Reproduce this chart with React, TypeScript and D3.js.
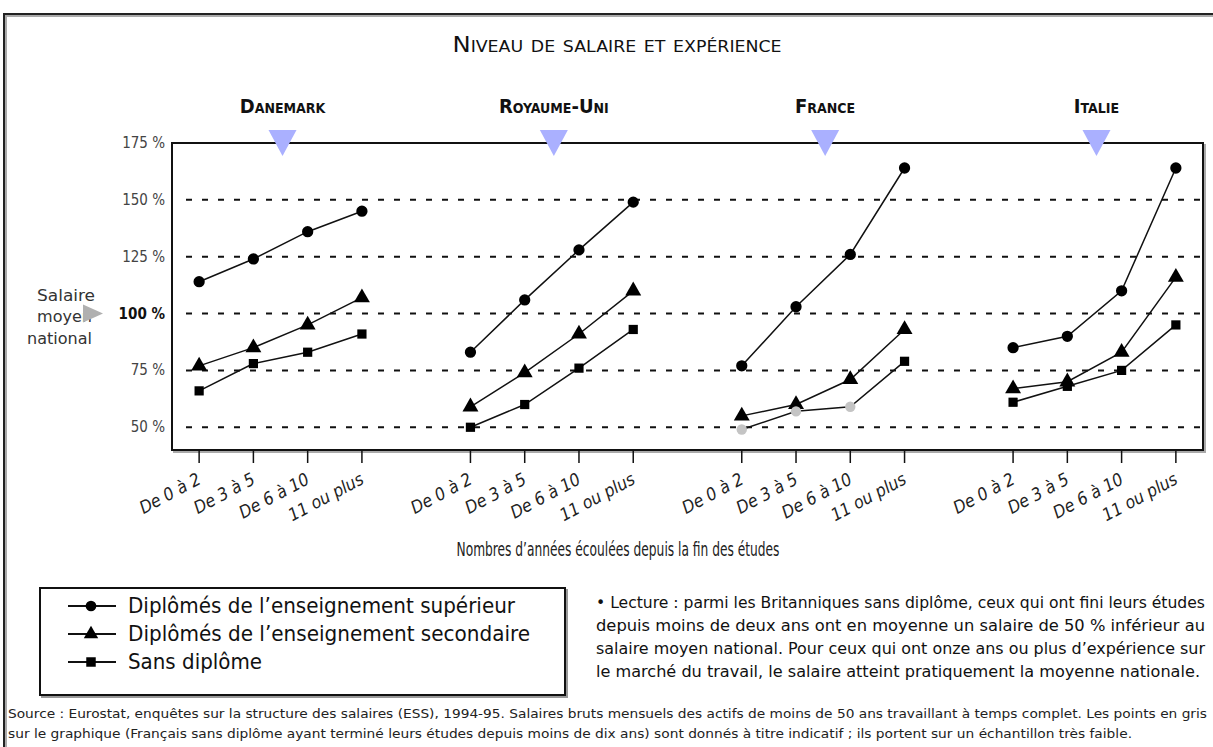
import React from 'react';
import * as d3 from 'd3';

const countries = ['Danemark', 'Royaume-Uni', 'France', 'Italie'];
const categories = ['De 0 à 2', 'De 3 à 5', 'De 6 à 10', '11 ou plus'];

// values in % of the national average salary, one array per country
const superieur = [
  [114, 124, 136, 145],
  [83, 106, 128, 149],
  [77, 103, 126, 164],
  [85, 90, 110, 164],
];
const secondaire = [
  [77, 85, 95, 107],
  [59, 74, 91, 110],
  [55, 60, 71, 93],
  [67, 70, 83, 116],
];
const sansDiplome = [
  [66, 78, 83, 91],
  [50, 60, 76, 93],
  [49, 57, 59, 79],
  [61, 68, 75, 95],
];
// points given only as an indication (small sample)
const grayPoints = [
  [false, false, false, false],
  [false, false, false, false],
  [true, true, true, false],
  [false, false, false, false],
];

const yTicks = [50, 75, 100, 125, 150, 175];
const gridValues = [50, 75, 100, 125, 150];

const legendItems = [
  { label: 'Diplômés de l\u2019enseignement supérieur', symbol: 'circle', len: 387 },
  { label: 'Diplômés de l\u2019enseignement secondaire', symbol: 'triangle', len: 402 },
  { label: 'Sans diplôme', symbol: 'square', len: 134 },
];

const readingLines = [
  '• Lecture : parmi les Britanniques sans diplôme, ceux qui ont fini leurs études',
  'depuis moins de deux ans ont en moyenne un salaire de 50 % inférieur au',
  'salaire moyen national. Pour ceux qui ont onze ans ou plus d\u2019expérience sur',
  'le marché du travail, le salaire atteint pratiquement la moyenne nationale.',
];

const sourceLines = [
  'Source : Eurostat, enquêtes sur la structure des salaires (ESS), 1994-95. Salaires bruts mensuels des actifs de moins de 50 ans travaillant à temps complet. Les points en gris',
  'sur le graphique (Français sans diplôme ayant terminé leurs études depuis moins de dix ans) sont donnés à titre indicatif ; ils portent sur un échantillon très faible.',
];

const FONT = "'Liberation Sans Narrow', 'DejaVu Sans Condensed', 'Roboto Condensed', 'DejaVu Sans', sans-serif";

const W = 1213;
const H = 747;
const plot = { left: 172, right: 1203, top: 143, bottom: 450 };

const symbolPath = (kind: string, size: number) => {
  const t = kind === 'triangle' ? d3.symbolTriangle : kind === 'square' ? d3.symbolSquare : d3.symbolCircle;
  return d3.symbol().type(t).size(size)() as string;
};

export default function App() {
  // 19 slots: 4 per country with an empty slot between groups
  const slots: string[] = [];
  countries.forEach((c, ci) => {
    categories.forEach((_, j) => slots.push(`${ci}-${j}`));
    if (ci < countries.length - 1) slots.push(`gap-${ci}`);
  });

  const x = d3.scalePoint<string>().domain(slots).range([plot.left, plot.right]).padding(0.5);
  const y = d3.scaleLinear().domain([40, 175]).range([plot.bottom, plot.top]);

  const line = d3
    .line<{ key: string; v: number }>()
    .x(d => x(d.key) as number)
    .y(d => y(d.v));

  const series = [
    { values: superieur, symbol: 'circle', size: 100 },
    { values: secondaire, symbol: 'triangle', size: 110 },
    { values: sansDiplome, symbol: 'square', size: 85 },
  ];

  const groupCenter = (ci: number) => ((x(`${ci}-0`) as number) + (x(`${ci}-3`) as number)) / 2 + 2;

  return (
    <svg
      width={W}
      height={H}
      style={{ position: 'absolute', left: 0, top: 0, background: '#fff' }}
      fontFamily={FONT}
    >
      {/* outer frame */}
      <rect x={6} y={16} width={1260} height={800} fill="none" stroke="#aaa" strokeWidth={2} />
      <rect x={4} y={14} width={1260} height={800} fill="none" stroke="#222" strokeWidth={2} />

      {/* title */}
      <text x={617} y={52} textAnchor="middle" fontSize={21} fontVariant="small-caps" textLength={329} lengthAdjust="spacingAndGlyphs" fill="#111">
        Niveau de salaire et expérience
      </text>

      {/* country labels */}
      {countries.map((c, ci) => (
        <text key={c} x={groupCenter(ci)} y={113} textAnchor="middle" fontSize={20} fontWeight="bold" fontVariant="small-caps" fill="#111">
          {c}
        </text>
      ))}

      {/* plot frame with shadow */}
      <rect x={plot.left + 2} y={plot.top + 2} width={plot.right - plot.left} height={plot.bottom - plot.top} fill="none" stroke="#aaa" strokeWidth={2} />
      <rect x={plot.left} y={plot.top} width={plot.right - plot.left} height={plot.bottom - plot.top} fill="#fff" stroke="#111" strokeWidth={2} />

      {/* blue markers over the frame */}
      {countries.map((c, ci) => {
        const cx = groupCenter(ci);
        return <path key={c} d={`M${cx - 14},130 L${cx + 14},130 L${cx},156 Z`} fill="#aab0ff" />;
      })}

      {/* grid */}
      {gridValues.map(v => (
        <line key={v} x1={plot.left + 14} x2={plot.right} y1={y(v)} y2={y(v)} stroke="#111" strokeWidth={2} strokeDasharray="6,10" />
      ))}

      {/* y tick labels */}
      {yTicks.map(v => (
        <text
          key={v}
          x={165}
          y={y(v) + 5}
          textAnchor="end"
          fontSize={15}
          fontWeight={v === 100 ? 'bold' : 'normal'}
          fill={v === 100 ? '#111' : '#444'}
        >
          {`${v} %`}
        </text>
      ))}

      {/* "Salaire moyen national" annotation */}
      <g fontSize={16} fill="#333">
        <text x={37} y={301} textLength={58} lengthAdjust="spacingAndGlyphs">Salaire</text>
        <text x={37} y={322} textLength={55} lengthAdjust="spacingAndGlyphs">moyen</text>
        <text x={27} y={344} textLength={65} lengthAdjust="spacingAndGlyphs">national</text>
      </g>
      <path d={`M83,${y(100) - 9} L103,${y(100)} L83,${y(100) + 9} Z`} fill="#b0b0b0" />

      {/* x ticks and labels */}
      {countries.map((c, ci) =>
        categories.map((cat, j) => {
          const px = x(`${ci}-${j}`) as number;
          return (
            <g key={`${c}-${cat}`}>
              <line x1={px} x2={px} y1={plot.bottom} y2={plot.bottom + 13} stroke="#111" strokeWidth={1.5} />
              <text
                transform={`translate(${px + 3},${plot.bottom + 33}) rotate(-28)`}
                textAnchor="end"
                fontSize={17.5}
                fontStyle="italic"
                fill="#222"
              >
                {cat}
              </text>
            </g>
          );
        })
      )}

      <text x={618} y={556} textAnchor="middle" fontSize={19} fill="#222" textLength={323} lengthAdjust="spacingAndGlyphs">
        Nombres d&#8217;années écoulées depuis la fin des études
      </text>

      {/* series */}
      {series.map((s, si) =>
        countries.map((c, ci) => {
          const pts = s.values[ci].map((v, j) => ({ key: `${ci}-${j}`, v }));
          return (
            <g key={`${si}-${c}`}>
              <path d={line(pts) as string} fill="none" stroke="#111" strokeWidth={1.5} />
              {pts.map((p, j) => {
                const gray = si === 2 && grayPoints[ci][j];
                return (
                  <path
                    key={j}
                    d={gray ? symbolPath('circle', s.size) : symbolPath(s.symbol, s.size)}
                    transform={`translate(${x(p.key)},${y(p.v)})`}
                    fill={gray ? '#c4c4c4' : '#000'}
                  />
                );
              })}
            </g>
          );
        })
      )}

      {/* legend */}
      <rect x={42} y={590} width={525} height={107} fill="none" stroke="#999" strokeWidth={2} />
      <rect x={40} y={588} width={525} height={107} fill="#fff" stroke="#111" strokeWidth={2} />
      {legendItems.map((it, i) => {
        const ly = 606 + i * 28;
        return (
          <g key={it.label}>
            <line x1={68} x2={116} y1={ly} y2={ly} stroke="#111" strokeWidth={2} />
            <path d={symbolPath(it.symbol, 90)} transform={`translate(91,${ly})`} fill="#000" />
            <text x={128} y={ly + 7} fontSize={21} fill="#111" textLength={it.len} lengthAdjust="spacingAndGlyphs">
              {it.label}
            </text>
          </g>
        );
      })}

      {/* reading note */}
      {readingLines.map((l, i) => (
        <text
          key={i}
          x={596}
          y={608 + i * 23}
          fontSize={15.5}
          fill="#111"
          textLength={i === 3 ? 604 : 609}
          lengthAdjust="spacingAndGlyphs"
        >
          {l}
        </text>
      ))}

      {/* source */}
      {sourceLines.map((l, i) => (
        <text
          key={i}
          x={8}
          y={718 + i * 20}
          fontSize={12.5}
          fill="#222"
          textLength={i === 0 ? 1199 : 1124}
          lengthAdjust="spacingAndGlyphs"
        >
          {l}
        </text>
      ))}
    </svg>
  );
}
